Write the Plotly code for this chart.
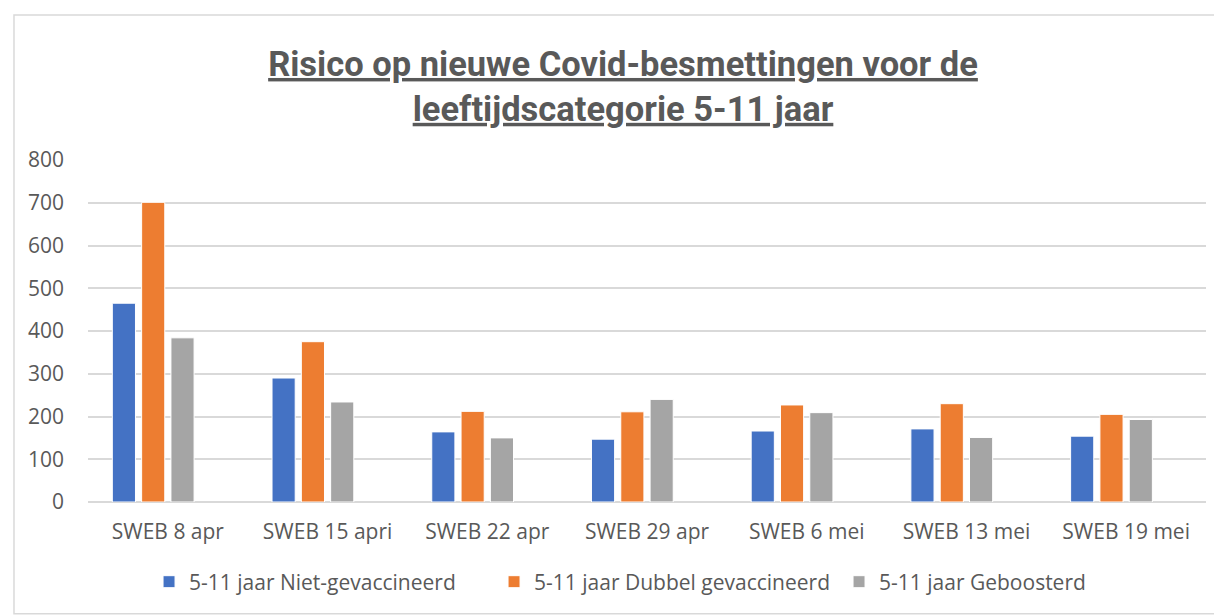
import plotly.graph_objects as go

# Kleuren (Office-palet)
BLUE = '#4472C4'
ORANGE = '#ED7D31'
GREY = '#A5A5A5'
TEXT = '#595959'
GRID = '#D9D9D9'

TITLE_FONT = 'Roboto, sans-serif'
FONT = 'Open Sans, sans-serif'

categories = ['SWEB 8 apr', 'SWEB 15 apri', 'SWEB 22 apr', 'SWEB 29 apr',
              'SWEB 6 mei', 'SWEB 13 mei', 'SWEB 19 mei']
niet_gevaccineerd = [465, 290, 164, 147, 166, 171, 154]
dubbel_gevaccineerd = [701, 375, 212, 211, 227, 230, 205]
geboosterd = [384, 234, 150, 240, 209, 151, 193]
# in het origineel staat een vierde, lege reeks (lege plek rechts in elke groep)
lege_reeks = [None] * len(categories)

series = [
    ('5-11 jaar Niet-gevaccineerd', niet_gevaccineerd, BLUE),
    ('5-11 jaar Dubbel gevaccineerd', dubbel_gevaccineerd, ORANGE),
    ('5-11 jaar Geboosterd', geboosterd, GREY),
]

fig = go.Figure()
for name, vals, col in series:
    fig.add_trace(go.Bar(
        x=categories, y=vals, name=name,
        marker=dict(color=col, line=dict(color='white', width=1)),
    ))
fig.add_trace(go.Bar(x=categories, y=lege_reeks, showlegend=False, hoverinfo='skip'))

# pagina heeft 8px body-marge, dus figuur iets kleiner
fig.update_layout(
    width=1214, height=607,
    paper_bgcolor='white', plot_bgcolor='white',
    margin=dict(l=80, r=16, t=152, b=113),
    barmode='group', bargap=0.266, bargroupgap=0.21,
    font=dict(family=FONT, color=TEXT, size=21),
    title=dict(
        text='<b><u>Risico op nieuwe Covid-besmettingen voor de</u></b><br>'
             '<b><u>leeftijdscategorie 5-11 jaar</u></b>',
        x=0.5066, xanchor='center', y=0.888, yanchor='middle',
        font=dict(family=TITLE_FONT, size=34.5, color=TEXT),
    ),
    yaxis=dict(range=[0, 800], dtick=100, gridcolor=GRID, gridwidth=2,
               zeroline=True, zerolinecolor=GRID, zerolinewidth=2,
               showline=False, ticks='', ticklabelstandoff=23,
               tickfont=dict(size=21, color=TEXT)),
    xaxis=dict(showgrid=False, showline=False, ticks='', ticklabelstandoff=15,
               tickfont=dict(size=21, color=TEXT)),
    legend=dict(orientation='h', x=0.0546, xanchor='left', y=-0.234, yanchor='middle',
                font=dict(size=21, color=TEXT),
                entrywidth=300, entrywidthmode='pixels',
                itemwidth=30, tracegroupgap=0),
    shapes=[dict(type='rect', xref='paper', yref='paper',
                 x0=-0.0662, x1=1.0134, y0=-0.327, y1=1.424,
                 line=dict(color=GRID, width=1.5), layer='below')],
)

fig.write_html('out.html')
